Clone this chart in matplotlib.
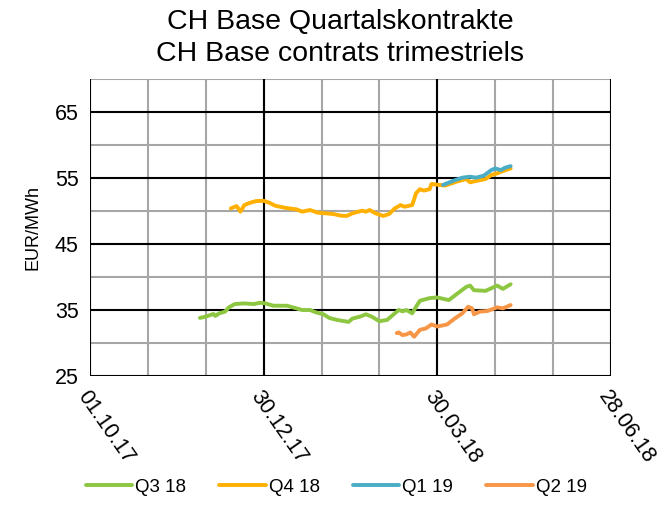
import pandas as pd
import matplotlib
matplotlib.use("Agg")
import matplotlib.pyplot as plt
import matplotlib.dates as mdates

plt.rcParams['font.family'] = ['Liberation Sans', 'DejaVu Sans']

# Q3 18
q3_18_dates = ["2017-11-27", "2017-11-30", "2017-12-02", "2017-12-04", "2017-12-05", "2017-12-07",
               "2017-12-10", "2017-12-12", "2017-12-15", "2017-12-20", "2017-12-25", "2017-12-28",
               "2017-12-31", "2018-01-04", "2018-01-11", "2018-01-16", "2018-01-19", "2018-01-23",
               "2018-01-26", "2018-01-30", "2018-02-02", "2018-02-06", "2018-02-12", "2018-02-14",
               "2018-02-18", "2018-02-21", "2018-02-24", "2018-02-28", "2018-03-04", "2018-03-07",
               "2018-03-10", "2018-03-12", "2018-03-14", "2018-03-17", "2018-03-19", "2018-03-21",
               "2018-03-26", "2018-03-30", "2018-04-05", "2018-04-09", "2018-04-14", "2018-04-16",
               "2018-04-18", "2018-04-24", "2018-04-30", "2018-05-03", "2018-05-07"]
q3_18_values = [33.8, 34.0, 34.2, 34.4, 34.1, 34.5,
                34.75, 35.4, 35.9, 36.0, 35.9, 36.1,
                36.0, 35.65, 35.65, 35.25, 35.0, 35.0,
                34.65, 34.35, 33.8, 33.5, 33.2, 33.7,
                34.0, 34.35, 34.0, 33.3, 33.5, 34.25,
                35.0, 34.8, 35.0, 34.5, 35.5, 36.4,
                36.8, 36.9, 36.5, 37.4, 38.5, 38.7,
                38.0, 37.9, 38.7, 38.2, 38.9]

# Q4 18
q4_18_dates = ["2017-12-13", "2017-12-16", "2017-12-18", "2017-12-20", "2017-12-23", "2017-12-26",
               "2017-12-30", "2018-01-02", "2018-01-05", "2018-01-09", "2018-01-12", "2018-01-16",
               "2018-01-19", "2018-01-23", "2018-01-27", "2018-01-31", "2018-02-04", "2018-02-08",
               "2018-02-11", "2018-02-14", "2018-02-19", "2018-02-21", "2018-02-23", "2018-02-26",
               "2018-03-02", "2018-03-05", "2018-03-08", "2018-03-11", "2018-03-13", "2018-03-17",
               "2018-03-19", "2018-03-21", "2018-03-23", "2018-03-26", "2018-03-27", "2018-03-31",
               "2018-04-03", "2018-04-09", "2018-04-14", "2018-04-16", "2018-04-19", "2018-04-24",
               "2018-04-27", "2018-04-30", "2018-05-03", "2018-05-07"]
q4_18_values = [50.4, 50.75, 49.9, 50.9, 51.25, 51.5,
                51.55, 51.25, 50.8, 50.55, 50.4, 50.25,
                49.9, 50.15, 49.75, 49.65, 49.55, 49.3,
                49.25, 49.65, 50.05, 49.9, 50.15, 49.65,
                49.25, 49.55, 50.4, 50.9, 50.65, 50.9,
                52.7, 53.3, 53.1, 53.3, 54.1, 53.95,
                53.85, 54.45, 54.85, 54.35, 54.55, 54.85,
                55.45, 55.7, 56.05, 56.45]

# Q1 19
q1_19_dates = ["2018-04-02", "2018-04-07", "2018-04-12", "2018-04-16", "2018-04-19", "2018-04-23",
               "2018-04-27", "2018-04-29", "2018-05-02", "2018-05-04", "2018-05-07"]
q1_19_values = [53.95, 54.55, 55.05, 55.2, 55.05, 55.35,
                56.2, 56.45, 56.2, 56.55, 56.8]

# Q2 19
q2_19_dates = ["2018-03-09", "2018-03-10", "2018-03-12", "2018-03-14", "2018-03-16", "2018-03-18",
               "2018-03-21", "2018-03-24", "2018-03-27", "2018-03-30", "2018-04-04", "2018-04-08",
               "2018-04-12", "2018-04-15", "2018-04-17", "2018-04-18", "2018-04-21", "2018-04-25",
               "2018-04-30", "2018-05-03", "2018-05-07"]
q2_19_values = [31.5, 31.6, 31.2, 31.3, 31.6, 30.95,
                32.0, 32.2, 32.8, 32.5, 32.8, 33.7,
                34.5, 35.5, 35.25, 34.35, 34.75, 34.85,
                35.4, 35.25, 35.75]

series = [
    ("Q3 18", q3_18_dates, q3_18_values, "#8dc641"),
    ("Q4 18", q4_18_dates, q4_18_values, "#ffb000"),
    ("Q1 19", q1_19_dates, q1_19_values, "#4bacc6"),
    ("Q2 19", q2_19_dates, q2_19_values, "#f79646"),
]

x_start = pd.Timestamp("2017-10-01")
x_end = pd.Timestamp("2018-06-28")
major_dates = pd.date_range(x_start, x_end, freq="90D")
minor_dates = pd.date_range(x_start, x_end, freq="30D")

fig = plt.figure(figsize=(6.63, 5.25), dpi=100)
ax = fig.add_axes([0.1357, 0.2838, 0.7858, 0.5657])

# gridlines: gray every 30 days / 5 units, black every 90 days / 10 units
for d in minor_dates:
    ax.axvline(d, color="#a6a6a6", lw=1.5, zorder=1)
for d in major_dates:
    ax.axvline(d, color="black", lw=1.5, zorder=2)
for v in range(30, 71, 10):
    ax.axhline(v, color="#a6a6a6", lw=1.5, zorder=1)
for v in range(25, 66, 10):
    ax.axhline(v, color="black", lw=1.5, zorder=2)

for name, dates, vals, col in series:
    ax.plot(pd.to_datetime(dates), vals, color=col, lw=2.8, label=name,
            solid_capstyle="round", zorder=3)

ax.set_xlim(x_start, x_end)
ax.set_ylim(25, 70)
ax.set_xticks(major_dates)
ax.xaxis.set_major_formatter(mdates.DateFormatter("%d.%m.%y"))
ax.set_yticks(range(25, 66, 10))
ax.tick_params(length=0, labelsize=15.5, pad=8)
for lab in ax.get_xticklabels():
    lab.set_rotation(-55)
    lab.set_ha("left")
    lab.set_va("top")
    lab.set_rotation_mode("anchor")
for s in ax.spines.values():
    s.set_visible(False)

ax.set_ylabel("EUR/MWh", fontsize=13, labelpad=10)

fig.text(0.513, 0.927, "CH Base Quartalskontrakte\nCH Base contrats trimestriels",
         ha="center", va="center", fontsize=20.5, linespacing=1.3)

fig.legend(loc="center", bbox_to_anchor=(0.507, 0.072), ncol=4, frameon=False,
           fontsize=13.5, handlelength=2.5, columnspacing=1.75, handletextpad=0.15)

fig.savefig("out.png", dpi=100)
